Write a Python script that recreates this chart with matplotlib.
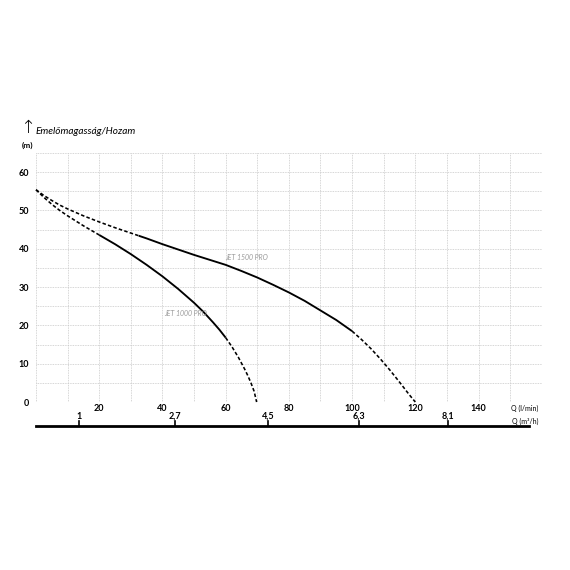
import matplotlib
matplotlib.use("Agg")
import matplotlib.pyplot as plt
import matplotlib.transforms as mtransforms

plt.rcParams['font.family'] = ['Lato', 'DejaVu Sans']

# JET 1500 PRO curve (Q in l/min, head in m)
q_1500 = [0, 2.5, 5, 7.5, 10, 15, 20, 25, 30, 32.5, 35, 40, 45, 50, 55, 60, 65, 70, 75, 80,
          85, 90, 95, 100, 103, 106, 109, 112, 115, 118, 120]
h_1500 = [55.4, 53.9, 52.6, 51.4, 50.4, 48.6, 47.0, 45.5, 44.1, 43.4, 42.7, 41.2, 39.8, 38.4,
          37.1, 35.8, 34.2, 32.5, 30.6, 28.6, 26.4, 23.9, 21.4, 18.5, 16.3, 13.9, 11.2, 8.3,
          5.2, 2.0, 0]
solid_1500 = (32.5, 100)

# JET 1000 PRO curve
q_1000 = [0, 2.5, 5, 7.5, 10, 15, 20, 25, 30, 35, 40, 45, 50, 53, 56, 58, 60, 62, 64, 66,
          67, 68, 69, 69.8]
h_1000 = [55.4, 53.4, 51.6, 50.0, 48.6, 46.0, 43.6, 41.2, 38.6, 35.8, 32.8, 29.5, 25.9, 23.5,
          20.8, 18.9, 16.8, 14.4, 11.7, 8.6, 6.9, 5.0, 2.8, 0]
solid_1000 = (20, 60)

# axis labels
x_ticks = list(range(0, 161, 10))
x_labels = ['' if (t % 20 or t in (0, 160)) else str(t) for t in x_ticks]
y_ticks = list(range(0, 66, 5))
y_labels = [str(t) if t % 10 == 0 else '' for t in y_ticks]

# second (m3/h) scale, placed along the l/min axis
m3h_labels = ['1', '2,7', '4,5', '6,3', '8,1']
m3h_pos = [13.6, 44.0, 73.4, 102.2, 130.3]


def split(q, h, lo, hi):
    # dashed start, solid middle, dashed end (split points shared)
    pre, mid, post = ([], []), ([], []), ([], [])
    for x, y in zip(q, h):
        if x <= lo:
            pre[0].append(x); pre[1].append(y)
        if lo <= x <= hi:
            mid[0].append(x); mid[1].append(y)
        if x >= hi:
            post[0].append(x); post[1].append(y)
    return pre, mid, post


fig = plt.figure(figsize=(5.7, 5.7), dpi=100)
ax = fig.add_axes([0.0632, 0.2947, 0.8872, 0.4369])
ax.set_xlim(0, 160)
ax.set_ylim(0, 65)

dash = (0, (2.2, 1.4))
for q, h, (lo, hi) in [(q_1500, h_1500, solid_1500), (q_1000, h_1000, solid_1000)]:
    pre, mid, post = split(q, h, lo, hi)
    ax.plot(*pre, color='black', lw=1.15, ls=dash, clip_on=False)
    ax.plot(*mid, color='black', lw=1.35, clip_on=False, solid_capstyle='butt')
    ax.plot(*post, color='black', lw=1.15, ls=dash, clip_on=False)

ax.text(66.5, 37.6, 'JET 1500 PRO', fontsize=5, style='italic', color='#9a9a9a',
        ha='center', va='center')
ax.text(47.2, 23.0, 'JET 1000 PRO', fontsize=5, style='italic', color='#9a9a9a',
        ha='center', va='center')

ax.set_xticks(x_ticks)
ax.set_xticklabels(x_labels, fontsize=6.5, fontweight='bold')
ax.set_yticks(y_ticks)
ax.set_yticklabels(y_labels, fontsize=6.5, fontweight='bold')
ax.tick_params(length=0, pad=1.5)
ax.tick_params(axis='y', pad=5)
ax.grid(True, color='#c8c8c8', ls=(0, (1, 1)), lw=0.6)
for s in ax.spines.values():
    s.set_visible(False)

# second axis line with m3/h ticks
trans = mtransforms.blended_transform_factory(ax.transData, ax.transAxes)
ax.plot([0, 156], [-0.0964, -0.0964], color='black', lw=2, transform=trans, clip_on=False)
for pos, lab in zip(m3h_pos, m3h_labels):
    ax.plot([pos, pos], [-0.0964, -0.076], color='black', lw=1.2, transform=trans, clip_on=False)
    ax.text(pos, -0.057, lab, fontsize=6.5, fontweight='bold', ha='center', va='center',
            transform=trans)

fig.text(538 / 570, 1 - 408 / 570, 'Q (l/min)', fontsize=5, ha='right', va='center')
fig.text(538 / 570, 1 - 421 / 570, 'Q (m³/h)', fontsize=5, ha='right', va='center')

fig.text(28 / 570, 1 - 128 / 570, '↑', fontsize=13, ha='center', va='center',
         family=['DejaVu Sans'], fontweight='light')
fig.text(36 / 570, 1 - 131 / 570, 'Emelőmagasság/Hozam', fontsize=7.2, style='italic',
         ha='left', va='center')
fig.text(27 / 570, 1 - 145 / 570, '(m)', fontsize=6, fontweight='bold', ha='center',
         va='center')

fig.savefig('out.png', dpi=100, facecolor='white')
